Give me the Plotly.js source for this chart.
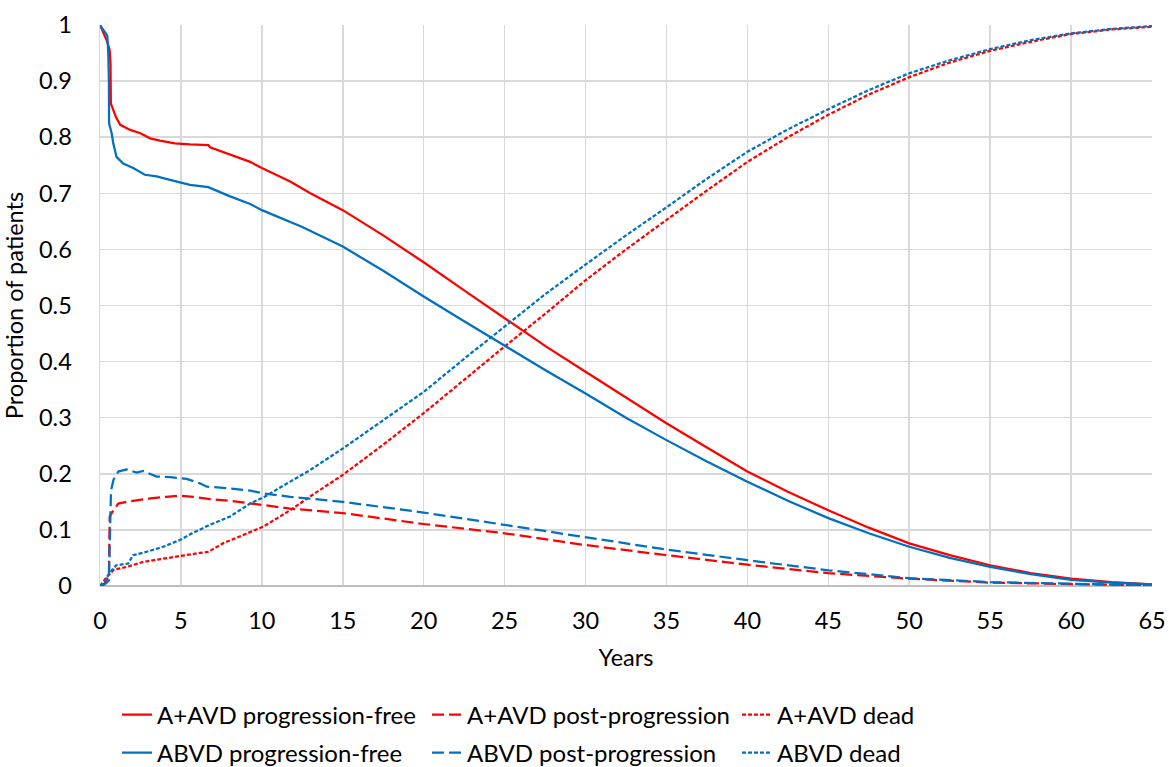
<!DOCTYPE html>
<html>
<head>
<meta charset="utf-8">
<script src="https://cdn.plot.ly/plotly-3.0.1.min.js"></script>
<style>html,body{margin:0;padding:0;background:#fff;}#chart{width:1169px;height:767px;}</style>
</head>
<body>
<div id="chart"></div>
<script>
// A+AVD progression-free
const aavdPfT = [0,0.15,0.31,0.45,0.6,0.65,0.67,0.84,1.0,1.25,1.5,1.87,2.49,3.1,3.7,4.63,5.56,6.69,6.8,8,9.28,10,11.75,13,15,17.5,20,22.5,25,27.5,30,32.5,35,37.5,40,42.5,45,47.5,50,52.5,55,57.5,60,62.5,65];
const aavdPfV = [1.0,0.99,0.982,0.970,0.955,0.93,0.86,0.845,0.835,0.822,0.818,0.813,0.807,0.798,0.794,0.789,0.787,0.786,0.782,0.770,0.756,0.745,0.721,0.700,0.670,0.625,0.577,0.527,0.477,0.428,0.382,0.336,0.290,0.247,0.204,0.168,0.135,0.104,0.076,0.055,0.037,0.023,0.013,0.007,0.003];
// A+AVD post-progression
const aavdPpT = [0,0.3,0.55,0.6,0.83,1.13,1.64,2.26,3.1,4.1,4.94,5.76,6.8,8.04,9.28,10.1,11.75,15,20,25,30,35,40,45,50,55,60,65];
const aavdPpV = [0,0.005,0.02,0.124,0.135,0.147,0.150,0.153,0.156,0.159,0.161,0.159,0.155,0.152,0.147,0.144,0.138,0.130,0.1105,0.094,0.073,0.055,0.038,0.023,0.013,0.006,0.003,0.001];
// A+AVD dead
const aavdDdT = [0,0.45,0.86,1.64,2.67,3.91,5.15,6.17,6.69,7.6,8.85,10.1,11.75,13,15,17.5,20,22.5,25,27.5,30,32.5,35,37.5,40,42.5,45,47.5,50,52.5,55,57.5,60,62.5,65];
const aavdDdV = [0,0.017,0.029,0.034,0.043,0.049,0.055,0.059,0.061,0.076,0.091,0.106,0.135,0.160,0.198,0.252,0.308,0.368,0.427,0.485,0.545,0.600,0.653,0.705,0.756,0.800,0.840,0.876,0.907,0.933,0.954,0.970,0.984,0.992,0.997];
// ABVD progression-free
const abvdPfT = [0,0.31,0.45,0.51,0.55,0.56,0.72,0.82,1.02,1.43,2.05,2.77,3.5,4.32,4.94,5.56,6.69,8,9.28,10,12.5,15,17.5,20,22.5,25,27.5,30,32.5,35,37.5,40,42.5,45,47.5,50,52.5,55,57.5,60,62.5,65];
const abvdPfV = [1.0,0.988,0.981,0.950,0.90,0.825,0.807,0.789,0.765,0.753,0.745,0.733,0.730,0.724,0.720,0.715,0.711,0.695,0.681,0.670,0.640,0.605,0.562,0.516,0.472,0.428,0.385,0.343,0.300,0.260,0.222,0.186,0.152,0.121,0.094,0.070,0.050,0.034,0.021,0.011,0.006,0.003];
// ABVD post-progression
const abvdPpT = [0,0.3,0.55,0.6,0.68,0.83,1.13,1.64,2.26,2.67,3.5,4.32,5.35,6.17,6.6,8.04,9.28,10.1,11.75,15,20,25,30,35,40,45,50,55,60,65];
const abvdPpV = [0,0.003,0.01,0.10,0.17,0.189,0.204,0.208,0.202,0.205,0.195,0.194,0.191,0.183,0.177,0.174,0.170,0.165,0.159,0.150,0.131,0.109,0.087,0.065,0.046,0.028,0.014,0.007,0.004,0.001];
// ABVD dead
const abvdDdT = [0,0.3,0.58,1.0,1.74,2.05,2.88,3.91,4.94,5.76,6.79,8.04,9.28,10.1,11.75,13,15,17.5,20,22.5,25,27.5,30,32.5,35,37.5,40,42.5,45,47.5,50,52.5,55,57.5,60,62.5,65];
const abvdDdV = [0,0.008,0.023,0.037,0.040,0.055,0.061,0.070,0.082,0.095,0.109,0.124,0.147,0.158,0.186,0.207,0.245,0.295,0.346,0.405,0.463,0.520,0.573,0.625,0.675,0.726,0.774,0.814,0.850,0.884,0.914,0.937,0.957,0.973,0.985,0.993,0.998];

const xTicks = [0,5,10,15,20,25,30,35,40,45,50,55,60,65];
const yTicks = [0,0.1,0.2,0.3,0.4,0.5,0.6,0.7,0.8,0.9,1];
const yTickText = ['0','0.1','0.2','0.3','0.4','0.5','0.6','0.7','0.8','0.9','1'];

const RED = '#FF0000', BLUE = '#0070C0';
const W = 2.25;
const DASH_PP = '12px,5px';
const DASH_DD = '4px,2px';

function tr(x, y, name, color, dash, legend) {
  return {x: x, y: y, name: name, type: 'scatter', mode: 'lines',
    line: {color: color, width: W, dash: dash}, legend: legend};
}

const data = [
  tr(aavdPfT, aavdPfV, 'A+AVD progression-free', RED, 'solid', 'legend'),
  tr(aavdPpT, aavdPpV, 'A+AVD post-progression', RED, DASH_PP, 'legend'),
  tr(aavdDdT, aavdDdV, 'A+AVD dead', RED, DASH_DD, 'legend'),
  tr(abvdPfT, abvdPfV, 'ABVD progression-free', BLUE, 'solid', 'legend2'),
  tr(abvdPpT, abvdPpV, 'ABVD post-progression', BLUE, DASH_PP, 'legend2'),
  tr(abvdDdT, abvdDdV, 'ABVD dead', BLUE, DASH_DD, 'legend2')
];

const FONT = 'Lato, "Open Sans", sans-serif';
const FS = 23.5;
const legBase = {orientation: 'h', x: 0.1001, xref: 'container', xanchor: 'left',
  yref: 'container', yanchor: 'middle',
  font: {family: FONT, size: 24, color: '#000'}, entrywidth: 265, entrywidthmode: 'pixels',
  bgcolor: 'rgba(0,0,0,0)', traceorder: 'normal'};

const layout = {
  width: 1169, height: 767,
  margin: {l: 100, r: 17, t: 25, b: 181},
  paper_bgcolor: '#fff', plot_bgcolor: '#fff',
  font: {family: FONT, size: FS, color: '#000'},
  showlegend: true,
  xaxis: {range: [0, 65], tickvals: xTicks, ticktext: xTicks.map(String),
    showgrid: true, gridcolor: '#d9d9d9', gridwidth: 1.5,
    showline: false, zeroline: true, zerolinecolor: '#d9d9d9', zerolinewidth: 1.5,
    ticks: '', ticklabelstandoff: 18, automargin: false,
    title: {text: 'Years', font: {family: FONT, size: FS, color: '#000'}, standoff: 17},
    tickfont: {family: FONT, size: FS, color: '#000'}, fixedrange: true},
  yaxis: {range: [0, 1], tickvals: yTicks, ticktext: yTickText,
    showgrid: true, gridcolor: '#d9d9d9', gridwidth: 1.5,
    showline: true, linecolor: '#d9d9d9', linewidth: 1.5,
    zeroline: true, zerolinecolor: '#bfbfbf', zerolinewidth: 1.5,
    ticks: '', ticklabelstandoff: 22, automargin: false,
    title: {text: 'Proportion of patients', font: {family: FONT, size: FS, color: '#000'}, standoff: 12},
    tickfont: {family: FONT, size: FS, color: '#000'}, fixedrange: true},
  legend: Object.assign({}, legBase, {y: 1 - 715/767}),
  legend2: Object.assign({}, legBase, {y: 1 - 753/767})
};

Plotly.newPlot('chart', data, layout, {displayModeBar: false, staticPlot: true});
</script>
</body>
</html>
